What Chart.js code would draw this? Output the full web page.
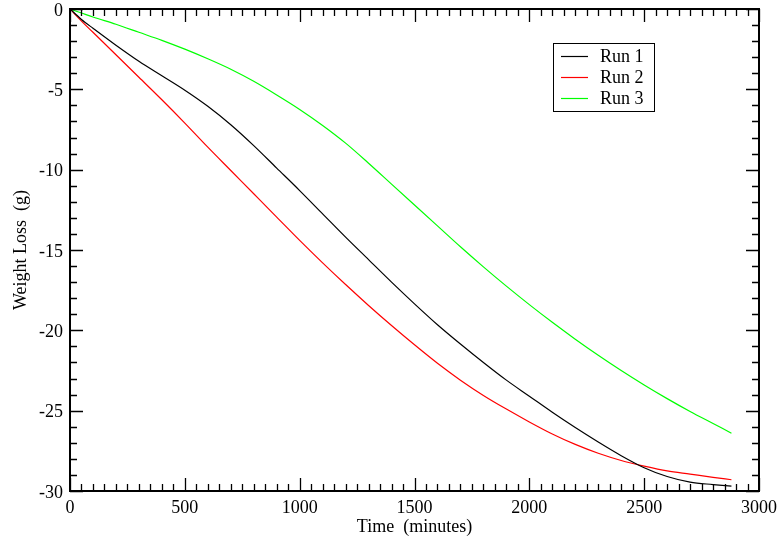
<!DOCTYPE html>
<html>
<head>
<meta charset="utf-8">
<script src="https://cdn.jsdelivr.net/npm/chart.js@4/dist/chart.umd.min.js"></script>
<style>
  html, body { margin: 0; padding: 0; background: #fff; }
  #wrap { width: 782px; height: 541px; }
</style>
</head>
<body>
<div id="wrap"><canvas id="c" width="782" height="541"></canvas></div>
<script>
// ---- data ----
const times = [0, 50, 100, 200, 300, 400, 500, 600, 700, 800, 900, 1000, 1100, 1200, 1300, 1400,
  1500, 1600, 1700, 1800, 1900, 2000, 2100, 2200, 2300, 2400, 2500, 2600, 2700, 2800, 2880];
const run1 = [0, -0.65, -1.2, -2.25, -3.25, -4.15, -5.05, -6.05, -7.2, -8.5, -9.9, -11.3, -12.75,
  -14.2, -15.6, -17.0, -18.35, -19.65, -20.85, -22.0, -23.1, -24.1, -25.1, -26.05, -26.95,
  -27.8, -28.55, -29.1, -29.45, -29.6, -29.7];
const run2 = [0, -0.75, -1.45, -2.85, -4.25, -5.65, -7.1, -8.6, -10.05, -11.5, -12.95, -14.4,
  -15.8, -17.15, -18.45, -19.7, -20.9, -22.05, -23.1, -24.05, -24.9, -25.7, -26.45, -27.1, -27.65,
  -28.1, -28.45, -28.75, -28.95, -29.15, -29.3];
const run3 = [0, -0.25, -0.5, -0.95, -1.45, -1.95, -2.5, -3.1, -3.75, -4.5, -5.35, -6.25, -7.25,
  -8.35, -9.6, -10.9, -12.2, -13.5, -14.8, -16.05, -17.25, -18.4, -19.5, -20.55, -21.55, -22.5,
  -23.4, -24.25, -25.05, -25.8, -26.4];
const seriesNames = ["Run 1", "Run 2", "Run 3"];
const seriesColors = ["#000000", "#ff0000", "#00ff00"];
const xTickStep = 500, xMinorStep = 50;
const yTickStep = 5, yMinorStep = 1;
const xTitle = "Time  (minutes)";
const yTitle = "Weight Loss  (g)";

const FONT = "'Liberation Serif', 'Times New Roman', serif";

function toPoints(vals) { return vals.map((v, i) => ({ x: times[i], y: v })); }

const datasets = [run1, run2, run3].map((vals, i) => ({
  label: seriesNames[i],
  data: toPoints(vals),
  borderColor: seriesColors[i],
  backgroundColor: seriesColors[i],
  borderWidth: 1.2,
  pointRadius: 0,
  cubicInterpolationMode: 'monotone',
  fill: false
}));

// frame + inward ticks on all four sides
const framePlugin = {
  id: 'frame',
  afterDatasetsDraw(chart) {
    const { ctx, chartArea: a, scales: { x, y } } = chart;
    ctx.save();
    ctx.strokeStyle = '#000';
    ctx.lineWidth = 1.3;
    ctx.beginPath();
    for (let v = x.min; v <= x.max + 1e-6; v += xMinorStep) {
      const px = Math.round(x.getPixelForValue(v)) + 0.5;
      const len = (Math.abs(v % xTickStep) < 1e-6) ? 13 : 7;
      ctx.moveTo(px, a.bottom); ctx.lineTo(px, a.bottom - len);
      ctx.moveTo(px, a.top); ctx.lineTo(px, a.top + len);
    }
    for (let v = y.min; v <= y.max + 1e-6; v += yMinorStep) {
      const py = Math.round(y.getPixelForValue(v)) + 0.5;
      const len = (Math.abs(v % yTickStep) < 1e-6) ? 13 : 7;
      ctx.moveTo(a.left, py); ctx.lineTo(a.left + len, py);
      ctx.moveTo(a.right, py); ctx.lineTo(a.right - len, py);
    }
    ctx.stroke();
    ctx.lineWidth = 2;
    ctx.strokeRect(a.left, a.top, a.right - a.left, a.bottom - a.top);
    ctx.restore();
  }
};

// boxed legend inside plot
const legendPlugin = {
  id: 'boxLegend',
  afterDraw(chart) {
    const { ctx } = chart;
    const bx = 553, by = 43, bw = 101, bh = 68;
    ctx.save();
    ctx.fillStyle = '#fff';
    ctx.fillRect(bx, by, bw, bh);
    ctx.strokeStyle = '#000';
    ctx.lineWidth = 1;
    ctx.strokeRect(bx + 0.5, by + 0.5, bw, bh);
    ctx.font = "18px " + FONT;
    ctx.textBaseline = 'middle';
    ctx.textAlign = 'left';
    chart.data.datasets.forEach((ds, i) => {
      const ly = 56 + i * 21;
      ctx.strokeStyle = ds.borderColor;
      ctx.lineWidth = 1.2;
      ctx.beginPath();
      ctx.moveTo(561, ly + 0.5); ctx.lineTo(588, ly + 0.5);
      ctx.stroke();
      ctx.fillStyle = '#000';
      ctx.fillText(ds.label, 600, ly + 1);
    });
    ctx.restore();
  }
};

new Chart(document.getElementById('c'), {
  type: 'line',
  data: { datasets },
  options: {
    responsive: false,
    animation: false,
    devicePixelRatio: 1,
    layout: { padding: { left: 0, top: 9, right: 23, bottom: 0 } },
    plugins: { legend: { display: false }, tooltip: { enabled: false } },
    scales: {
      x: {
        type: 'linear', min: 0, max: 3000,
        grid: { display: false, drawTicks: false },
        border: { display: false },
        ticks: { stepSize: xTickStep, maxRotation: 0, autoSkip: false, padding: 6, color: '#000',
                  font: { family: FONT, size: 18 }, callback: v => String(v) },
        title: { display: true, text: xTitle, color: '#000', font: { family: FONT, size: 18, lineHeight: 1.2 },
                 padding: { top: 0, bottom: 3 } },
        afterFit(s) { s.height = 50; s.paddingLeft = 0; s.paddingRight = 0; }
      },
      y: {
        type: 'linear', min: -30, max: 0,
        grid: { display: false, drawTicks: false },
        border: { display: false },
        ticks: { stepSize: yTickStep, padding: 7, labelOffset: 2, color: '#000',
                 font: { family: FONT, size: 18 }, callback: v => String(v) },
        title: { display: true, text: yTitle, color: '#000', font: { family: FONT, size: 18, lineHeight: 1.2 },
                 padding: { top: 10, bottom: 0 } },
        afterFit(s) { s.width = 70; s.paddingTop = 0; s.paddingBottom = 0; }
      }
    }
  },
  plugins: [framePlugin, legendPlugin]
});
</script>
</body>
</html>
